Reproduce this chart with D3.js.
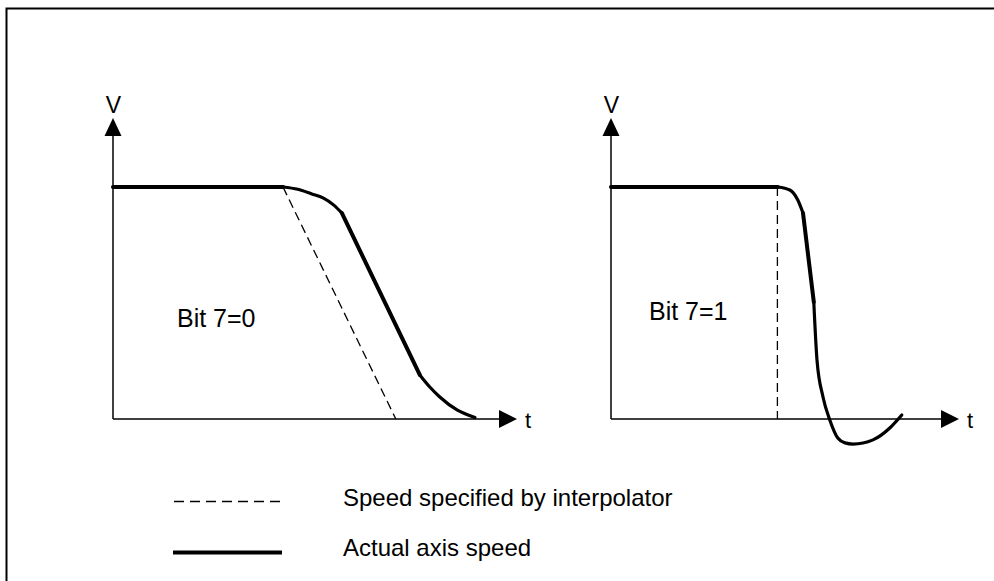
<!DOCTYPE html>
<html>
<head>
<meta charset="utf-8">
<script src="https://cdn.jsdelivr.net/npm/d3@7/dist/d3.min.js"></script>
<style>
  html, body { margin: 0; padding: 0; background: #fff; }
  svg { display: block; }
  text { font-family: "Liberation Sans", Arial, sans-serif; fill: #000; }
</style>
</head>
<body>
<svg id="chart" width="994" height="581"></svg>
<script>
// Speed profiles (time, normalised speed) for both settings of bit 7.
// The actual speed is stored as consecutive pieces: constant run, rounded
// shoulder, linear ramp, settling tail.
const leftActual = [
  [[0, 1], [4.25, 1]],
  [[4.25, 1], [4.62, 0.99], [4.97, 0.97], [5.25, 0.953], [5.52, 0.922], [5.72, 0.888]],
  [[5.72, 0.888], [7.67, 0.19]],
  [[7.67, 0.19], [7.92, 0.138], [8.17, 0.095], [8.6, 0.039], [9.05, 0.006]]
];
const leftSetpoint = [[4.25, 1], [7.07, 0]];
const rightActual = [
  [[0, 1], [4.17, 1]],
  [[4.17, 1], [4.47, 0.987], [4.67, 0.944], [4.8, 0.888]],
  [[4.8, 0.888], [5.07, 0.504]],
  [[5.07, 0.504], [5.15, 0.254], [5.3, 0.095], [5.47, -0.004], [5.67, -0.082], [5.85, -0.103],
   [6.05, -0.108], [6.55, -0.09], [6.97, -0.039], [7.27, 0.017]]
];
const rightSetpoint = [[4.16, 1], [4.16, 0]];
const panelLabels = ["Bit 7=0", "Bit 7=1"];
const axisLabels = ["V", "t"];
const legendLabels = ["Speed specified by interpolator", "Actual axis speed"];

const svg = d3.select("#chart");

// Frame
svg.append("path")
  .attr("d", "M6.5,581V8.5H994")
  .attr("fill", "none").attr("stroke", "#000").attr("stroke-width", 2);

const y = d3.scaleLinear().domain([0, 1]).range([419, 187]);

const panels = [
  { x: d3.scaleLinear().domain([0, 10.1]).range([113, 517]), actual: leftActual, setpoint: leftSetpoint,
    label: panelLabels[0], labelAt: [1.6, 0.395] },
  { x: d3.scaleLinear().domain([0, 8.7]).range([611, 959]), actual: rightActual, setpoint: rightSetpoint,
    label: panelLabels[1], labelAt: [0.95, 0.425] }
];

panels.forEach(p => {
  const g = svg.append("g");
  const x = p.x;
  const [x0, x1] = x.range();
  const yTop = 118;

  // axes
  g.append("line").attr("x1", x0).attr("x2", x1 - 16).attr("y1", y(0)).attr("y2", y(0))
    .attr("stroke", "#000").attr("stroke-width", 1.5);
  g.append("line").attr("x1", x0).attr("x2", x0).attr("y1", y(0)).attr("y2", yTop + 15)
    .attr("stroke", "#000").attr("stroke-width", 1.5);
  // arrow heads
  g.append("path")
    .attr("d", `M${x0},${yTop}L${x0 + 8.5},${yTop + 18}L${x0 - 8.5},${yTop + 18}Z`)
    .attr("fill", "#000");
  g.append("path")
    .attr("d", `M${x1},${y(0)}L${x1 - 18},${y(0) - 9}L${x1 - 18},${y(0) + 9}Z`)
    .attr("fill", "#000");
  g.append("text").attr("x", x0 + 0.5).attr("y", 113).attr("text-anchor", "middle")
    .attr("font-size", 23).text(axisLabels[0]);
  g.append("text").attr("x", x1 + 8).attr("y", 428)
    .attr("font-size", 22).text(axisLabels[1]);

  // setpoint (dashed)
  g.append("path").datum(p.setpoint)
    .attr("d", d3.line().x(d => x(d[0])).y(d => y(d[1])))
    .attr("fill", "none").attr("stroke", "#000").attr("stroke-width", 1.3)
    .attr("stroke-dasharray", "9,5");

  // actual speed (solid, heavy): straight pieces slightly heavier than curved ones
  const line = d3.line().x(d => x(d[0])).y(d => y(d[1])).curve(d3.curveMonotoneX);
  g.selectAll("path.actual").data(p.actual).join("path")
    .attr("class", "actual")
    .attr("d", line)
    .attr("fill", "none").attr("stroke", "#000")
    .attr("stroke-width", d => d.length === 2 ? 4 : 3.2)
    .attr("stroke-linecap", "round")
    .attr("stroke-linejoin", "round");

  g.append("text").attr("x", x(p.labelAt[0])).attr("y", y(p.labelAt[1]))
    .attr("font-size", 25).text(p.label);
});

// Legend
const legend = svg.append("g");
legend.append("line").attr("x1", 174).attr("x2", 280).attr("y1", 501.5).attr("y2", 501.5)
  .attr("stroke", "#000").attr("stroke-width", 1.3).attr("stroke-dasharray", "10,6");
legend.append("line").attr("x1", 173).attr("x2", 282).attr("y1", 552.5).attr("y2", 552.5)
  .attr("stroke", "#000").attr("stroke-width", 4);
legend.append("text").attr("x", 343).attr("y", 505.5).attr("font-size", 24).text(legendLabels[0]);
legend.append("text").attr("x", 343).attr("y", 556).attr("font-size", 24).text(legendLabels[1]);
</script>
</body>
</html>
